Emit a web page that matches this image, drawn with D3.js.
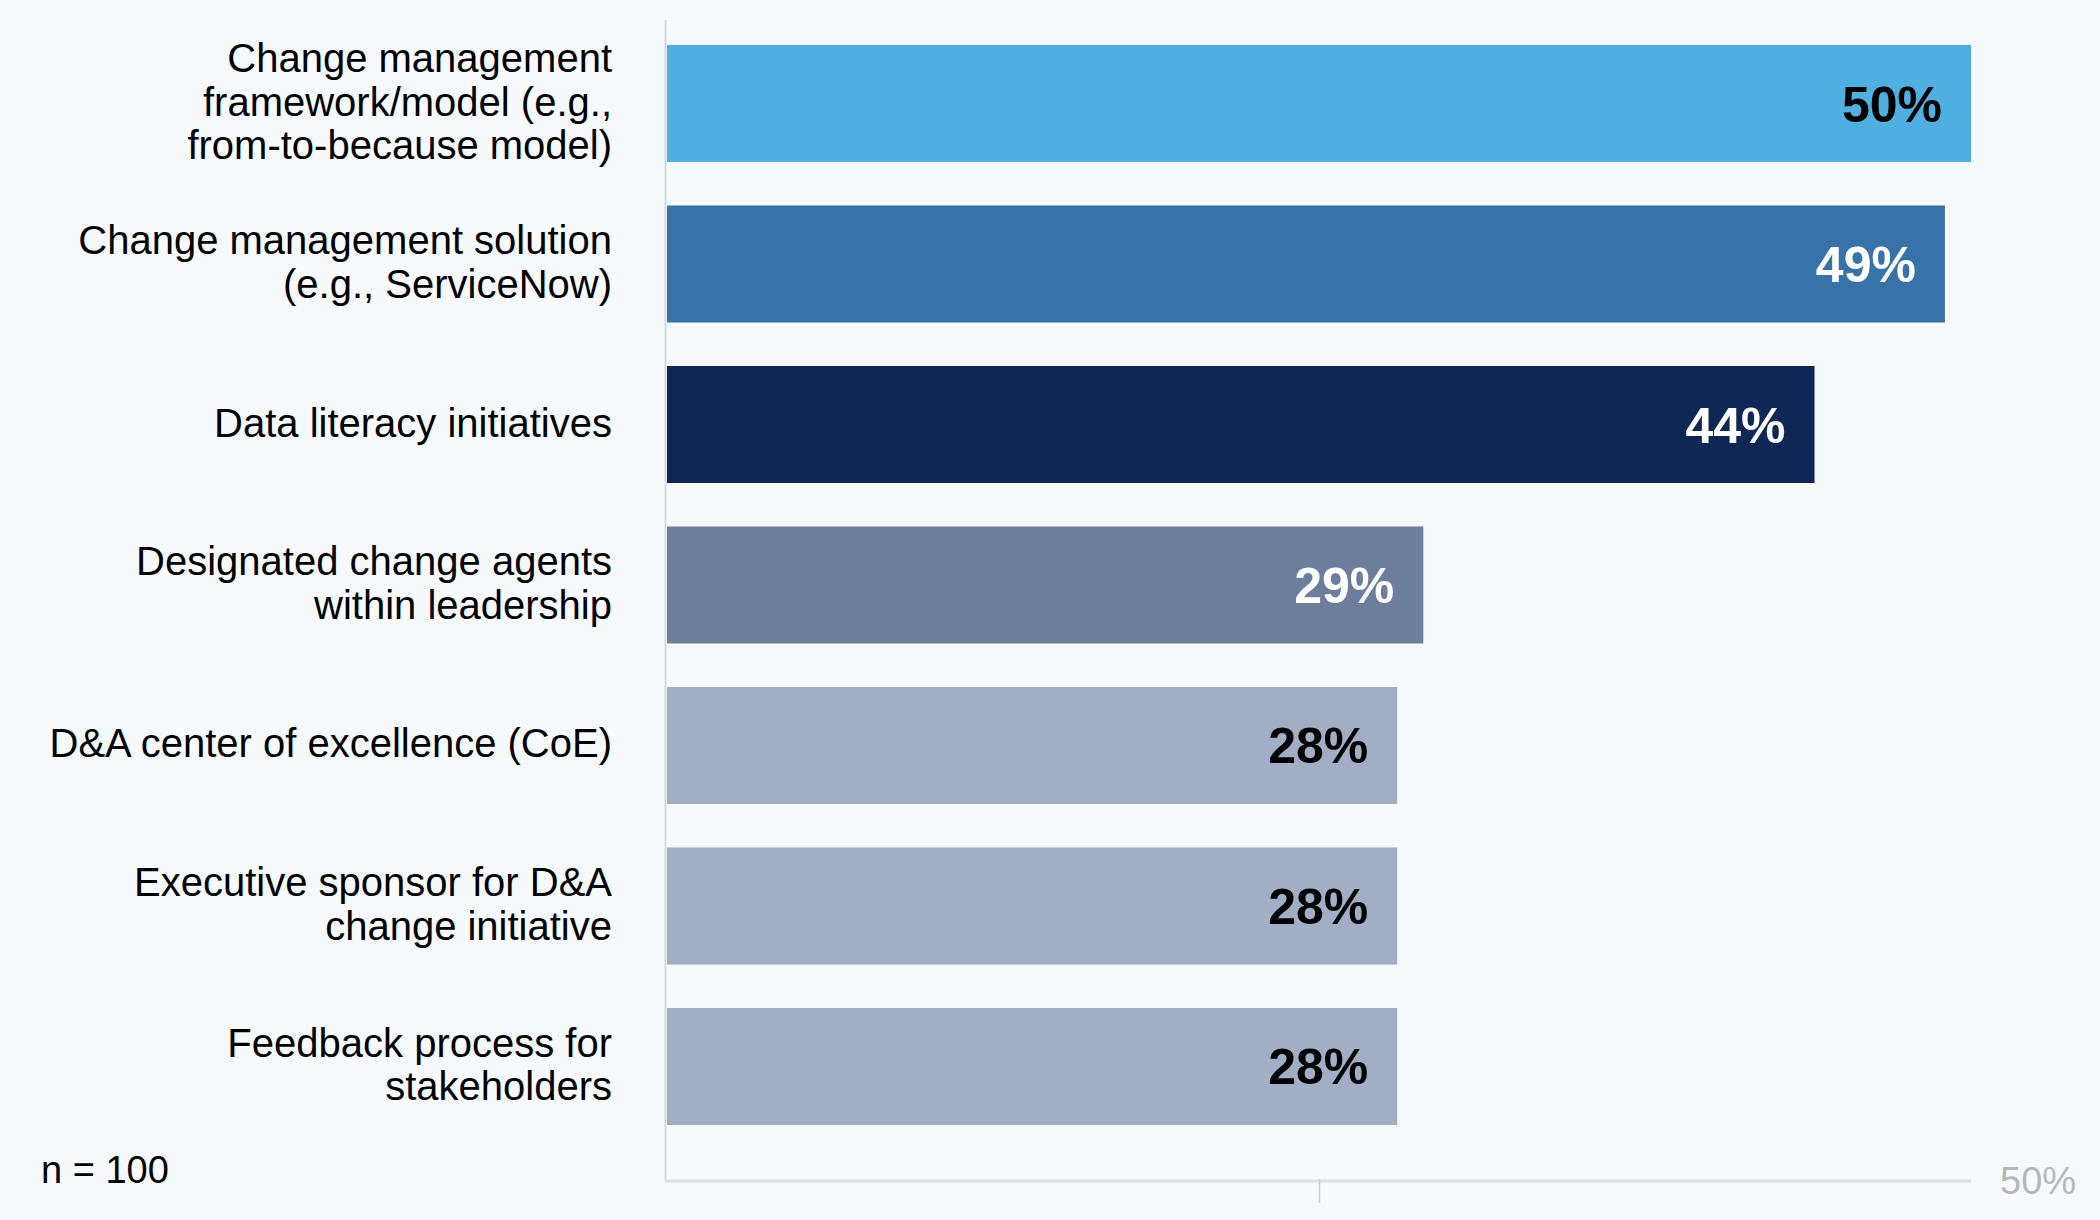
<!DOCTYPE html>
<html>
<head>
<meta charset="utf-8">
<script src="https://cdn.jsdelivr.net/npm/d3@7"></script>
<style>
  html, body { margin: 0; padding: 0; background: #F6FAFC; }
  svg { display: block; }
</style>
</head>
<body>
<svg id="chart" width="2100" height="1220"></svg>
<script>
// ---- Data ----
const categories = [
  ["Change management", "framework/model (e.g.,", "from-to-because model)"],
  ["Change management solution", "(e.g., ServiceNow)"],
  ["Data literacy initiatives"],
  ["Designated change agents", "within leadership"],
  ["D&A center of excellence (CoE)"],
  ["Executive sponsor for D&A", "change initiative"],
  ["Feedback process for", "stakeholders"]
];
const values = [50, 49, 44, 29, 28, 28, 28];
const barColors = ["#50AFE1", "#3772A8", "#0E2755", "#6D7E9D", "#A1AEC6", "#A1AEC6", "#A1AEC6"];
const labelColors = ["#000000", "#FFFFFF", "#FFFFFF", "#FFFFFF", "#000000", "#000000", "#000000"];
const axisMax = 50;
const tickValues = [25];
const endTickLabel = "50%";
const sampleNote = "n = 100";

// ---- Layout ----
const W = 2100, H = 1220;
const x0 = 667, x1 = 1971;
const axisTop = 20, axisY = 1181;
const svg = d3.select("#chart");
svg.append("rect").attr("width", W).attr("height", H).attr("fill", "#F6FAFC");

const x = d3.scaleLinear().domain([0, axisMax]).range([x0, x1]);
const y = d3.scaleBand().domain(d3.range(values.length)).range([45, 1125]).paddingInner(0.271).paddingOuter(0);

const font = "'Liberation Sans', Arial, sans-serif";

// Bars
svg.selectAll("rect.bar").data(values).join("rect")
  .attr("class", "bar")
  .attr("x", x(0))
  .attr("y", (d, i) => y(i))
  .attr("width", d => x(d) - x(0))
  .attr("height", y.bandwidth())
  .attr("fill", (d, i) => barColors[i]);

// Value labels
svg.selectAll("text.val").data(values).join("text")
  .attr("class", "val")
  .attr("x", d => x(d) - 29)
  .attr("y", (d, i) => y(i) + y.bandwidth() / 2)
  .attr("dy", "0.36em")
  .attr("text-anchor", "end")
  .attr("font-family", font)
  .attr("font-weight", "bold")
  .attr("font-size", 50)
  .attr("fill", (d, i) => labelColors[i])
  .text(d => d + "%");

// Category labels
const lineH = 43.5;
const catG = svg.selectAll("text.cat").data(categories).join("text")
  .attr("class", "cat")
  .attr("text-anchor", "end")
  .attr("font-family", font)
  .attr("font-size", 40)
  .attr("fill", "#000");
catG.each(function(lines, i) {
  const cy = y(i) + y.bandwidth() / 2 - 2;
  const startY = cy - (lines.length - 1) * lineH / 2;
  d3.select(this).selectAll("tspan").data(lines).join("tspan")
    .attr("x", 612)
    .attr("y", (d, j) => startY + j * lineH)
    .attr("dy", "0.35em")
    .text(d => d);
});

// Vertical axis line
svg.append("line")
  .attr("x1", x(0) - 1.5).attr("x2", x(0) - 1.5)
  .attr("y1", axisTop).attr("y2", axisY)
  .attr("stroke", "#D6D9DC").attr("stroke-width", 2);

// Bottom axis
const axisG = svg.append("g").attr("transform", `translate(0,${axisY})`)
  .call(d3.axisBottom(x).tickValues(tickValues).tickSize(22).tickFormat(""));
axisG.select(".domain").attr("stroke", "#DCDFE2").attr("stroke-width", 3)
  .attr("d", `M${x(0) - 2},0H${x(axisMax)}`);
axisG.selectAll(".tick line").attr("stroke", "#CFCFCF").attr("stroke-width", 1.5).attr("y1", -2);

svg.append("text")
  .attr("x", x(axisMax) + 29)
  .attr("y", axisY)
  .attr("dy", "0.35em")
  .attr("font-family", font)
  .attr("font-size", 38)
  .attr("fill", "#B5B8BB")
  .text(endTickLabel);

// Sample note
svg.append("text")
  .attr("x", 41)
  .attr("y", 1183)
  .attr("font-family", font)
  .attr("font-size", 38)
  .attr("fill", "#000")
  .text(sampleNote);
</script>
</body>
</html>
